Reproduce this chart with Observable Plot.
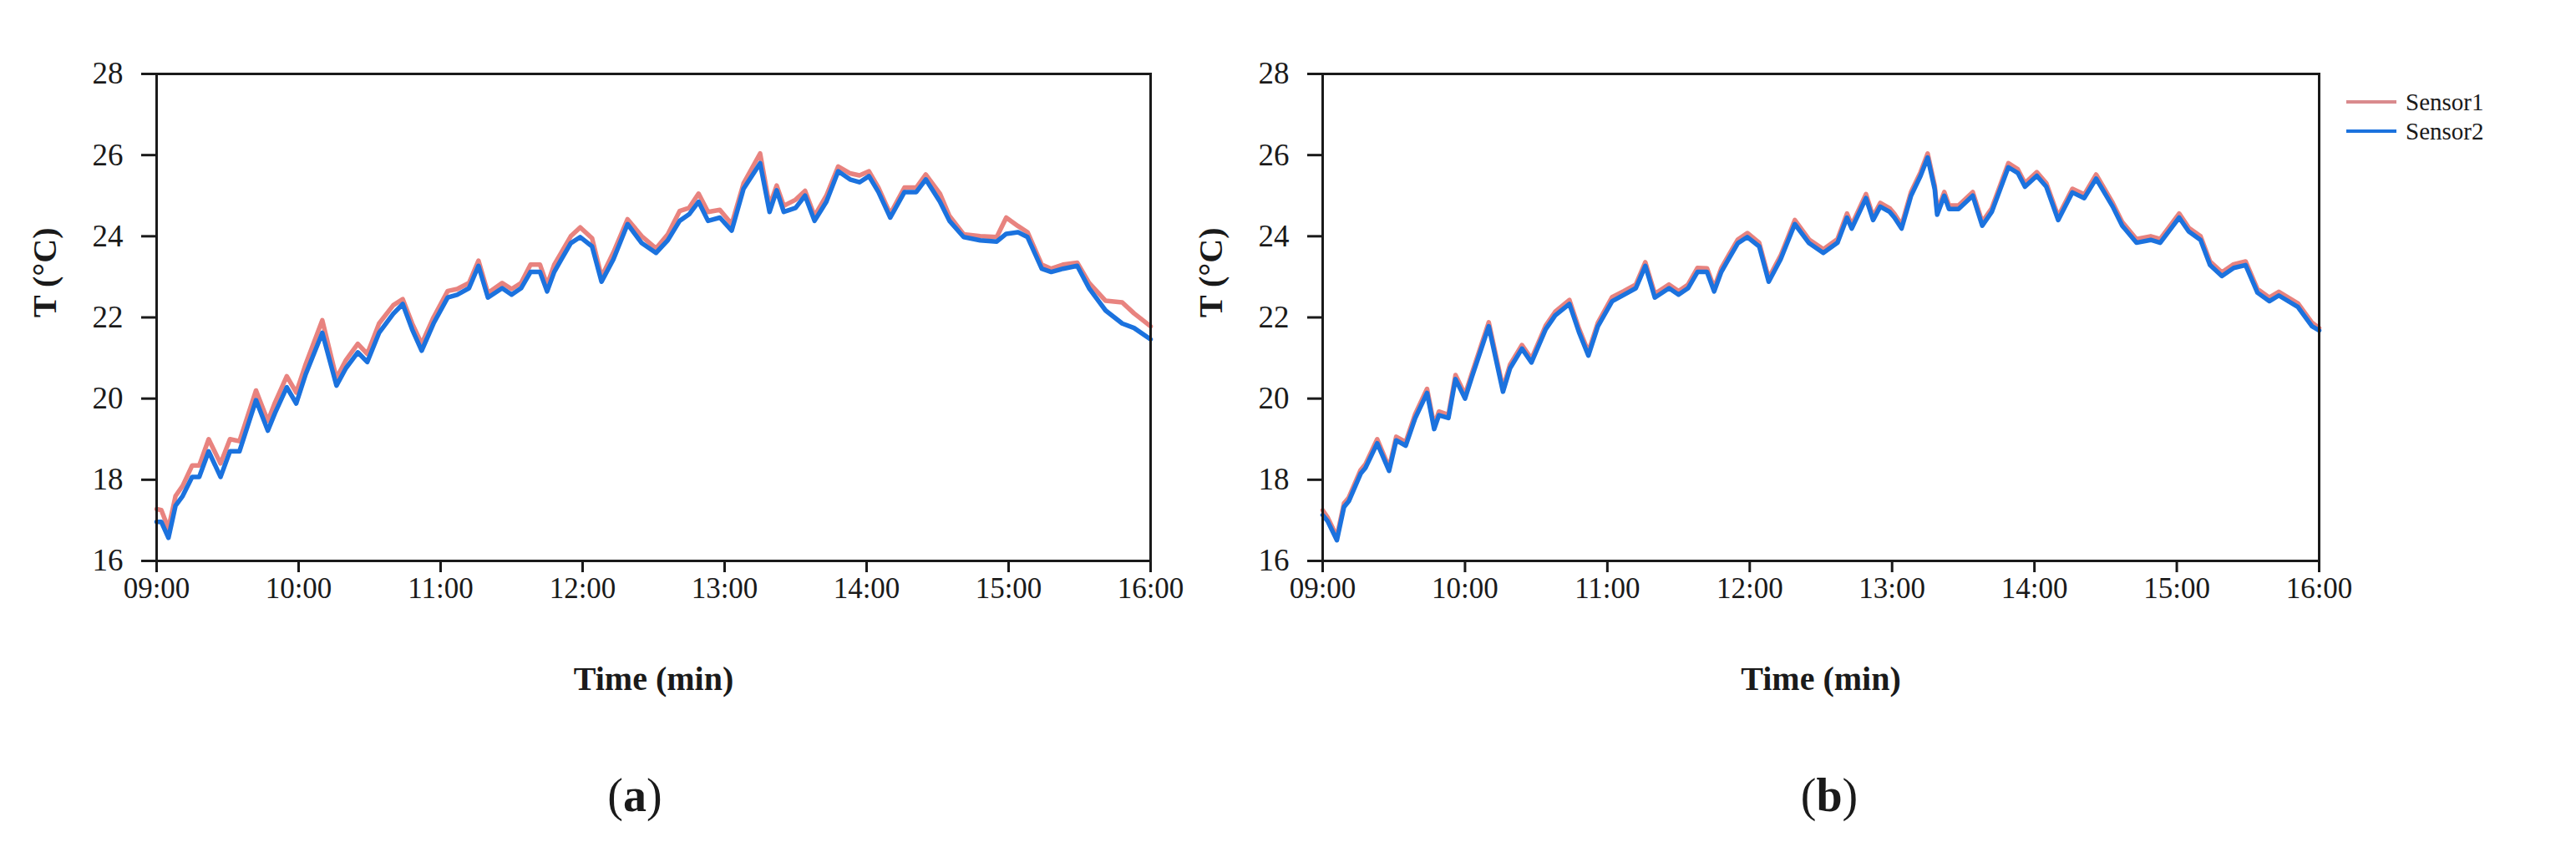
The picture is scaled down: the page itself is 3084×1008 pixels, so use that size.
<!DOCTYPE html>
<html>
<head>
<meta charset="utf-8">
<script src="https://cdn.jsdelivr.net/npm/d3@7"></script>
<script src="https://cdn.jsdelivr.net/npm/@observablehq/plot@0.6"></script>
<style>
  html, body { margin: 0; padding: 0; background: #fff; width: 3084px; height: 1008px; overflow: hidden;
    font-family: "Liberation Serif", "Times New Roman", serif; color: #1a1a1a; }
  #pa { position: absolute; left: 0; top: 0; }
  #pb { position: absolute; left: 1396px; top: 0; }
  .cap { position: absolute; top: 918px; width: 200px; text-align: center; font-size: 56px; line-height: 68px; }
  .cap b { font-weight: bold; }
  .leg { position: absolute; left: 2809px; width: 270px; height: 34px; }
  .leg .sw { position: absolute; left: 0; top: 15px; width: 60px; height: 4px; }
  .leg .lb { position: absolute; left: 71px; top: 0; font-size: 29px; line-height: 34px; white-space: nowrap; }
</style>
</head>
<body>
<div id="pa"></div>
<div id="pb"></div>
<div class="cap" style="left:660px">(<b>a</b>)</div>
<div class="cap" style="left:2090px">(<b>b</b>)</div>
<div id="legend"></div>
<script>
// ---------- data ----------
const seriesNames = ["Sensor1", "Sensor2"];
const seriesColors = ["#E8837F", "#1B72DE"];
const xTickLabels = ["09:00", "10:00", "11:00", "12:00", "13:00", "14:00", "15:00", "16:00"];
const yTicks = [16, 18, 20, 22, 24, 26, 28];
const xLabel = "Time (min)";
const yLabel = "T (°C)";

// panel (a)
const timesA = [
  "09:00","09:02","09:05","09:08","09:11","09:15","09:18","09:22","09:27","09:31",
  "09:35","09:42","09:47","09:50","09:55","09:59","10:03","10:10","10:16","10:20",
  "10:25","10:29","10:34","10:40","10:44","10:48","10:52","10:57","11:03","11:07",
  "11:12","11:16","11:20","11:26","11:30","11:34","11:38","11:42","11:45","11:48",
  "11:51","11:55","11:59","12:04","12:08","12:13","12:19","12:25","12:31","12:36",
  "12:41","12:45","12:49","12:53","12:58","13:03","13:08","13:15","13:19","13:22",
  "13:25","13:30","13:34","13:38","13:43","13:48","13:53","13:57","14:01","14:05",
  "14:10","14:16","14:21","14:25","14:31","14:35","14:41","14:48","14:55","14:59",
  "15:04","15:08","15:14","15:18","15:23","15:29","15:34","15:41","15:48","15:53",
  "16:00"];
const sensor1A = [
  17.28,17.25,16.80,17.60,17.85,18.35,18.35,19.00,18.40,19.00,
  18.95,20.20,19.45,19.90,20.55,20.15,20.85,21.93,20.50,20.95,
  21.35,21.10,21.85,22.30,22.45,21.85,21.35,22.00,22.65,22.70,
  22.85,23.40,22.60,22.85,22.70,22.85,23.30,23.30,22.80,23.30,
  23.60,24.00,24.22,23.95,23.00,23.60,24.42,24.00,23.70,24.05,
  24.62,24.70,25.05,24.60,24.65,24.30,25.30,26.04,24.75,25.25,
  24.75,24.90,25.12,24.50,25.00,25.72,25.55,25.50,25.60,25.20,
  24.55,25.20,25.20,25.52,25.05,24.50,24.05,24.00,23.98,24.46,
  24.25,24.10,23.30,23.20,23.30,23.35,22.85,22.41,22.37,22.10,
  21.78];
const sensor2A = [
  16.96,16.96,16.57,17.36,17.60,18.07,18.07,18.70,18.07,18.70,
  18.70,19.96,19.21,19.64,20.28,19.88,20.60,21.62,20.32,20.75,
  21.14,20.90,21.62,22.09,22.33,21.70,21.18,21.85,22.49,22.56,
  22.72,23.27,22.49,22.72,22.56,22.72,23.12,23.12,22.64,23.12,
  23.43,23.83,23.98,23.75,22.88,23.43,24.30,23.83,23.59,23.90,
  24.38,24.54,24.85,24.38,24.46,24.14,25.17,25.80,24.60,25.13,
  24.60,24.70,25.00,24.38,24.85,25.60,25.40,25.33,25.48,25.09,
  24.46,25.09,25.09,25.40,24.85,24.38,23.98,23.90,23.87,24.06,
  24.10,23.98,23.20,23.12,23.20,23.27,22.72,22.17,21.85,21.74,
  21.46];

// panel (b)
const timesB = [
  "09:00","09:02","09:06","09:09","09:11","09:16","09:18","09:23","09:28","09:31",
  "09:35","09:39","09:44","09:47","09:49","09:53","09:56","10:00","10:03","10:10",
  "10:16","10:19","10:24","10:28","10:34","10:38","10:44","10:48","10:52","10:56",
  "11:02","11:07","11:12","11:16","11:20","11:26","11:30","11:34","11:38","11:42",
  "11:45","11:48","11:51","11:55","11:59","12:04","12:08","12:13","12:19","12:25",
  "12:31","12:37","12:41","12:43","12:49","12:52","12:55","12:59","13:01","13:04",
  "13:08","13:12","13:15","13:18","13:19","13:22","13:24","13:28","13:34","13:38",
  "13:42","13:49","13:53","13:56","14:01","14:05","14:10","14:16","14:21","14:26",
  "14:33","14:37","14:43","14:49","14:53","15:01","15:05","15:10","15:14","15:19",
  "15:24","15:29","15:34","15:39","15:43","15:51","15:57","16:00"];
const sensor1B = [
  17.25,17.08,16.60,17.42,17.56,18.24,18.38,19.00,18.30,19.06,
  18.93,19.62,20.24,19.34,19.68,19.60,20.58,20.10,20.64,21.88,
  20.26,20.84,21.32,20.98,21.80,22.14,22.43,21.73,21.15,21.87,
  22.50,22.65,22.81,23.36,22.58,22.81,22.65,22.81,23.22,23.21,
  22.73,23.21,23.52,23.92,24.08,23.84,22.97,23.52,24.40,23.92,
  23.68,23.93,24.56,24.28,25.04,24.49,24.82,24.69,24.55,24.28,
  25.09,25.58,26.04,25.24,24.62,25.09,24.76,24.76,25.09,24.35,
  24.69,25.80,25.65,25.31,25.58,25.31,24.49,25.17,25.03,25.52,
  24.82,24.35,23.93,24.00,23.93,24.56,24.21,24.00,23.38,23.11,
  23.31,23.38,22.70,22.49,22.63,22.35,21.87,21.74];
const sensor2B = [
  17.13,16.99,16.51,17.33,17.47,18.15,18.29,18.90,18.22,18.97,
  18.84,19.52,20.14,19.25,19.59,19.52,20.48,20.00,20.55,21.78,
  20.17,20.75,21.23,20.89,21.71,22.05,22.33,21.64,21.06,21.78,
  22.40,22.56,22.72,23.27,22.49,22.72,22.56,22.72,23.12,23.12,
  22.64,23.12,23.43,23.83,23.98,23.75,22.88,23.43,24.30,23.83,
  23.59,23.84,24.46,24.19,24.94,24.40,24.73,24.60,24.46,24.19,
  25.00,25.49,25.94,25.15,24.53,25.00,24.67,24.67,25.00,24.26,
  24.60,25.70,25.56,25.22,25.49,25.22,24.40,25.08,24.94,25.42,
  24.73,24.26,23.84,23.91,23.84,24.46,24.12,23.91,23.29,23.02,
  23.22,23.29,22.61,22.40,22.54,22.26,21.78,21.68];

// ---------- chart ----------
const parse = d3.utcParse("%H:%M");

function build(times, s1, s2) {
  const rows = [];
  times.forEach((t, i) => rows.push({time: parse(t), T: s1[i], sensor: seriesNames[0]}));
  times.forEach((t, i) => rows.push({time: parse(t), T: s2[i], sensor: seriesNames[1]}));
  return rows;
}

function panel(rows, plotWidth) {
  const mL = 187, mR = 30, mT = 88, mB = 180;
  return Plot.plot({
    width: mL + plotWidth + mR,
    height: mT + 583 + mB,
    marginLeft: mL, marginRight: mR, marginTop: mT, marginBottom: mB,
    style: {fontFamily: "'Liberation Serif', 'Times New Roman', serif", fontSize: "37px", color: "#1a1a1a", background: "transparent", overflow: "visible"},
    x: {type: "utc", domain: [parse(xTickLabels[0]), parse(xTickLabels[xTickLabels.length - 1])]},
    y: {domain: [yTicks[0], yTicks[yTicks.length - 1]]},
    color: {domain: seriesNames, range: seriesColors},
    marks: [
      Plot.lineY(rows, {x: "time", y: "T", z: "sensor", stroke: "sensor", strokeWidth: 5.5, strokeLinejoin: "round"}),
      Plot.frame({stroke: "#1a1a1a", strokeWidth: 3}),
      Plot.axisX({ticks: xTickLabels.map(parse), tickFormat: d3.utcFormat("%H:%M"), tickSize: 14, tickPadding: 6, strokeWidth: 3, fontSize: 35, label: null}),
      Plot.axisY({ticks: yTicks, tickSize: 18, tickPadding: 22, strokeWidth: 3, label: null}),
      Plot.text([xLabel], {text: d => d, frameAnchor: "bottom", dy: 154, fontWeight: "bold", fontSize: 40}),
      Plot.text([yLabel], {text: d => d, frameAnchor: "left", dx: -133, rotate: -90, fontWeight: "bold", fontSize: 40})
    ]
  });
}

document.getElementById("pa").appendChild(panel(build(timesA, sensor1A, sensor2A), 1190));
document.getElementById("pb").appendChild(panel(build(timesB, sensor1B, sensor2B), 1193));

// legend for panel (b)
const legendColors = ["#D98A8D", "#1B72DE"];
const legendTops = [105, 140];
const leg = document.getElementById("legend");
seriesNames.forEach((name, i) => {
  const d = document.createElement("div");
  d.className = "leg";
  d.style.top = legendTops[i] + "px";
  d.innerHTML = `<div class="sw" style="background:${legendColors[i]}"></div><div class="lb">${name}</div>`;
  leg.appendChild(d);
});
</script>
</body>
</html>
